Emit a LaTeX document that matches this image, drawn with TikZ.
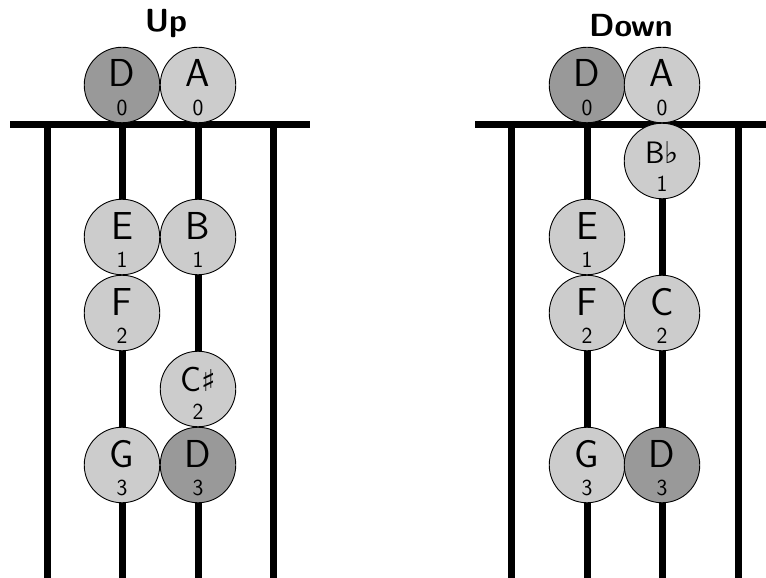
\documentclass[tikz,border=0pt]{standalone}
\usepackage{fontspec}
\newfontfamily\musicsym{DejaVu Sans}
\begin{document}
\begin{tikzpicture}[x=1pt,y=-1pt,
  strg/.style={line width=7pt, line cap=butt},
  notecirc/.style={circle, draw=black, line width=0.9pt, minimum size=75.5pt, inner sep=0pt},
  lite/.style={fill=black!20},
  dark/.style={fill=black!40},
  lettertxt/.style={anchor=base, inner sep=0pt, font=\sffamily\fontsize{39}{39}\selectfont},
  digittxt/.style={anchor=base, inner sep=0pt, font=\sffamily\fontsize{23}{23}\selectfont},
  titletxt/.style={anchor=base, inner sep=0pt, font=\sffamily\bfseries\fontsize{32}{32}\selectfont}
]
\useasboundingbox (0,0) rectangle (766,578);
\clip (0,0) rectangle (766,578);
\newcommand{\notenode}[6]{%
  \node[notecirc,#4] (#1) at (#2,#3) {};
  \node[lettertxt] (#1-l) at ([yshift=-2pt]#1.center) {#5};
  \node[digittxt] (#1-d) at ([yshift=-30pt]#1.center) {#6};
}
\newcommand{\mysharp}{{\musicsym\fontsize{30}{30}\selectfont ♯}}
\newcommand{\myflat}{{\musicsym\fontsize{30}{30}\selectfont ♭}}
% ---------- Left panel: Up ----------
\node[titletxt] (tup) at (166,32) {Up};
\coordinate (nl1) at (10,124);
\coordinate (nl2) at (310,124);
\coordinate (sl1t) at (47,124);  \coordinate (sl1b) at (47,578);
\coordinate (sl2t) at (122,124); \coordinate (sl2b) at (122,578);
\coordinate (sl3t) at (198,124); \coordinate (sl3b) at (198,578);
\coordinate (sl4t) at (273,124); \coordinate (sl4b) at (273,578);
\draw[strg] (sl1t) -- (sl1b);
\draw[strg] (sl2t) -- (sl2b);
\draw[strg] (sl3t) -- (sl3b);
\draw[strg] (sl4t) -- (sl4b);
\draw[strg] (nl1) -- (nl2);
\notenode{uD0}{122}{85}{dark}{D}{0}
\notenode{uA0}{198}{85}{lite}{A}{0}
\notenode{uE1}{122}{237}{lite}{E}{1}
\notenode{uB1}{198}{237}{lite}{B}{1}
\notenode{uF2}{122}{313}{lite}{F}{2}
\notenode{uC2}{198}{389}{lite}{{\fontsize{35}{35}\selectfont C}\mysharp}{2}
\notenode{uG3}{122}{465}{lite}{G}{3}
\notenode{uD3}{198}{465}{dark}{D}{3}
% ---------- Right panel: Down ----------
\node[titletxt] (tdown) at (631,37) {Down};
\coordinate (nr1) at (475,124);
\coordinate (nr2) at (775,124);
\coordinate (sr1t) at (511,124); \coordinate (sr1b) at (511,578);
\coordinate (sr2t) at (587,124); \coordinate (sr2b) at (587,578);
\coordinate (sr3t) at (662,124); \coordinate (sr3b) at (662,578);
\coordinate (sr4t) at (738,124); \coordinate (sr4b) at (738,578);
\draw[strg] (sr1t) -- (sr1b);
\draw[strg] (sr2t) -- (sr2b);
\draw[strg] (sr3t) -- (sr3b);
\draw[strg] (sr4t) -- (sr4b);
\draw[strg] (nr1) -- (nr2);
\notenode{dD0}{587}{85}{dark}{D}{0}
\notenode{dA0}{662}{85}{lite}{A}{0}
\notenode{dB1}{662}{161}{lite}{{\fontsize{31}{31}\selectfont B}\myflat}{1}
\notenode{dE1}{587}{237}{lite}{E}{1}
\notenode{dF2}{587}{313}{lite}{F}{2}
\notenode{dC2}{662}{313}{lite}{C}{2}
\notenode{dG3}{587}{465}{lite}{G}{3}
\notenode{dD3}{662}{465}{dark}{D}{3}
\end{tikzpicture}
\end{document}
